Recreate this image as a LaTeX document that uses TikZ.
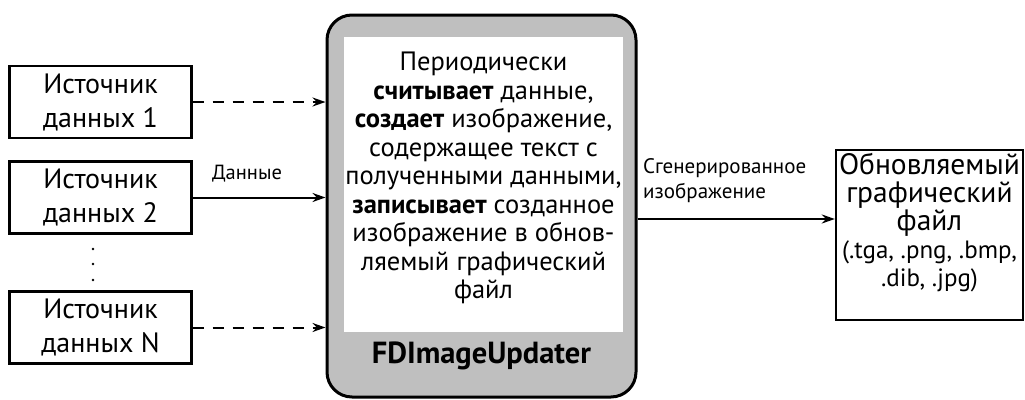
\documentclass[tikz,border=0pt]{standalone}
\usepackage{fontspec}
\setmainfont{PT Sans}
\usetikzlibrary{arrows.meta}

\begin{document}
\begin{tikzpicture}[x=1pt,y=-1pt,>={Stealth[length=13pt,width=9pt]}]
        \tikzstyle{source}=[draw=black,line width=2.4pt,fill=white,minimum width=182pt,minimum height=72pt,inner sep=0pt,align=center,font=\fontsize{28}{34}\selectfont]
        \tikzstyle{updater}=[draw=black,line width=3pt,fill=black!25,rounded corners=25pt,minimum width=309pt,minimum height=382pt,inner sep=0pt]
        \tikzstyle{job}=[fill=white,minimum width=279pt,minimum height=295pt,inner sep=0pt]
        \tikzstyle{jobtext}=[inner sep=0pt,align=center,font=\fontsize{26.5}{28.5}\selectfont]
        \tikzstyle{target}=[draw=black,line width=2.4pt,fill=white,minimum width=187pt,minimum height=170pt,inner sep=0pt]
        \tikzstyle{label}=[inner sep=0pt,font=\fontsize{21}{25}\selectfont]
        \tikzstyle{conn}=[draw=black,line width=2pt,->]
        \tikzstyle{maybe}=[dash pattern=on 11pt off 9pt]

        \useasboundingbox (0,0) rectangle (1025,399);

        \node [source] (src1) at (100.5,102) {Источник\\данных 1};
        \node [source] (src2) at (100.5,197.5) {Источник\\данных 2};
        \node [source] (srcN) at (100.5,327.5) {Источник\\данных N};
        \foreach \y in {249,264,280}
          \fill (93,\y) circle (1.4pt);

        \node [updater] (upd) at (481.5,206) {};
        \node [job] (job) at (483.5,184.5) {};
        \node [jobtext] (jobtxt) at (483.5,178) {Периодически\\
          \textbf{считывает} данные,\\
          \textbf{создает} изображение,\\
          содержащее текст с\\
          полученными данными,\\
          \textbf{записывает} созданное\\
          изображение в обнов-\\
          ляемый графический\\
          файл};
        \node [inner sep=0pt,font=\fontsize{30.5}{34}\selectfont\bfseries] (name) at (481.5,356) {FDImageUpdater};

        \node [target] (out) at (929.5,235) {};
        \node [inner sep=0pt,align=center,font=\fontsize{29.5}{28}\selectfont] (outtxt) at (929.5,222.5) {Обновляемый\\графический\\файл\\
          {\fontsize{25}{27}\selectfont (.tga, .png, .bmp,}\\
          {\fontsize{25}{27}\selectfont .dib, .jpg)}};

        \draw[conn, maybe] (src1.east) -- (src1.east -| upd.west);
        \draw[conn] (src2.east) -- (src2.east -| upd.west);
        \draw[conn, maybe] (srcN.east) -- (srcN.east -| upd.west);
        \node [label, font=\fontsize{20.5}{25}\selectfont] (data) at (247,174) {Данные};

        \coordinate (genout) at ([yshift=-13pt]upd.east);
        \draw[conn] (genout) -- (genout -| out.west);
        \node [label, anchor=north west, align=left] (gen) at (643,158) {Сгенерированное\\изображение};
      \end{tikzpicture}
\end{document}
